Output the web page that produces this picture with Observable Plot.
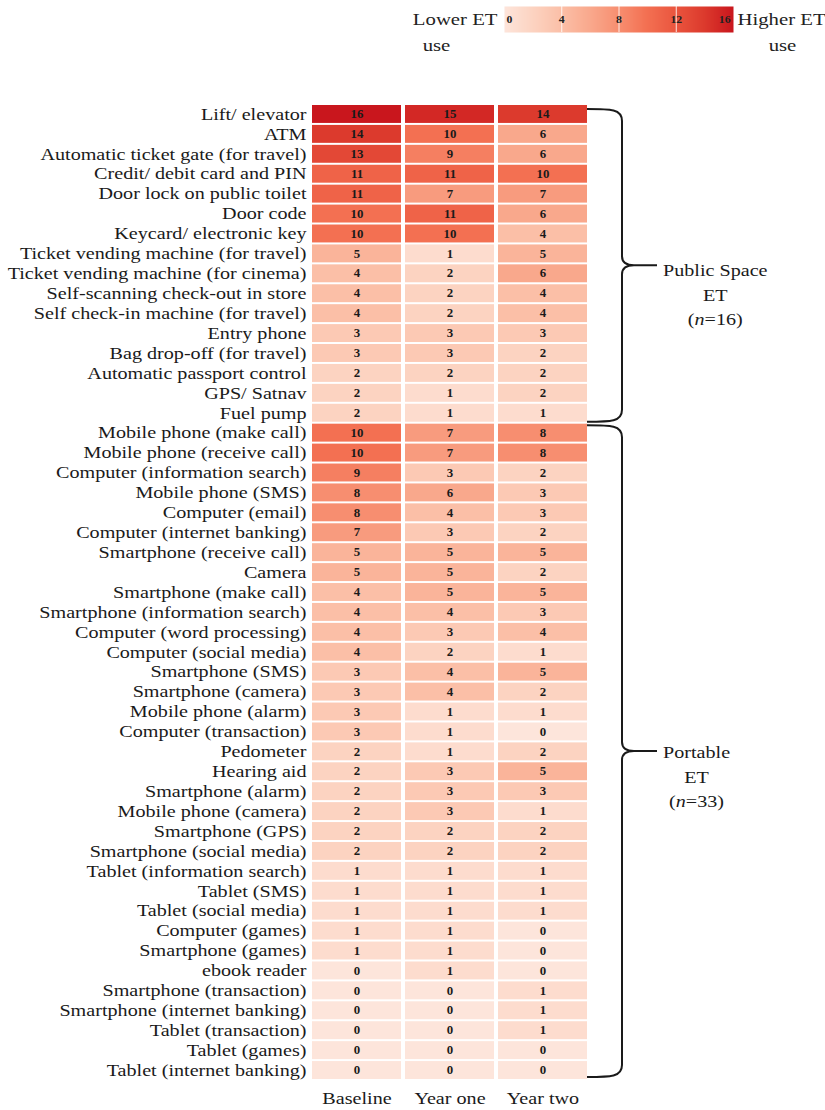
<!DOCTYPE html>
<html><head><meta charset="utf-8">
<script src="https://cdn.jsdelivr.net/npm/d3@7"></script>
<script src="https://cdn.jsdelivr.net/npm/@observablehq/plot@0.6"></script>
<style>
body{margin:0;background:#fff;}
#chart{width:825px;}
svg{display:block}
</style></head><body><div id="chart"></div>
<script>
const items = [
  "Lift/ elevator","ATM","Automatic ticket gate (for travel)","Credit/ debit card and PIN",
  "Door lock on public toilet","Door code","Keycard/ electronic key","Ticket vending machine (for travel)",
  "Ticket vending machine (for cinema)","Self-scanning check-out in store","Self check-in machine (for travel)",
  "Entry phone","Bag drop-off (for travel)","Automatic passport control","GPS/ Satnav","Fuel pump",
  "Mobile phone (make call)","Mobile phone (receive call)","Computer (information search)","Mobile phone (SMS)",
  "Computer (email)","Computer (internet banking)","Smartphone (receive call)","Camera","Smartphone (make call)",
  "Smartphone (information search)","Computer (word processing)","Computer (social media)","Smartphone (SMS)",
  "Smartphone (camera)","Mobile phone (alarm)","Computer (transaction)","Pedometer","Hearing aid",
  "Smartphone (alarm)","Mobile phone (camera)","Smartphone (GPS)","Smartphone (social media)",
  "Tablet (information search)","Tablet (SMS)","Tablet (social media)","Computer (games)","Smartphone (games)",
  "ebook reader","Smartphone (transaction)","Smartphone (internet banking)","Tablet (transaction)",
  "Tablet (games)","Tablet (internet banking)"
];
const baseline = [16,14,13,11,11,10,10,5,4,4,4,3,3,2,2,2,
  10,10,9,8,8,7,5,5,4,4,4,4,3,3,3,3,2,2,2,2,2,2,1,1,1,1,1,0,0,0,0,0,0];
const yearOne  = [15,10,9,11,7,11,10,1,2,2,2,3,3,2,1,1,
  7,7,3,6,4,3,5,5,5,4,3,2,4,4,1,1,1,3,3,3,2,2,1,1,1,1,1,1,0,0,0,0,0];
const yearTwo  = [14,6,6,10,7,6,4,5,6,4,4,3,2,2,2,1,
  8,8,2,3,3,2,5,2,5,3,4,1,5,2,1,0,2,5,3,1,2,2,1,1,1,0,0,0,1,1,1,0,0];
const periods = ["Baseline","Year one","Year two"];
const groupNames = [["Public Space","ET"],["Portable","ET"]];
const groupSizes = [16,33];
const legendTicks = [0,4,8,12,16];
const colorStops = [0,2,4,6,8,10,12,14,16];
const colorRange = ["#fde5db","#fcd3c1","#fbbfa7","#f9a88c","#f78e70","#f37052","#ea553e","#dc3a2d","#c9161d"];

const SERIF = "'Liberation Serif','Times New Roman',serif";
const STRETCH = 1.22, STRETCH_BOLD = 1.12;
const colorOpt = {type:"linear", domain: colorStops, range: colorRange, interpolate:"rgb"};

const rampMark = typeof Plot.raster === "function"
  ? Plot.raster({x1:0, x2:16, y1:0, y2:1, width:230, height:1, fill:(x,y)=>x})
  : Plot.rect(d3.range(0,16,0.1), {x1:d=>d, x2:d=>d+0.1, y1:0, y2:1, fill:d=>d});

const legend = Plot.plot({
  width:825, height:60, margin:0,
  x:{domain:[0,16], range:[504,733], axis:null},
  y:{domain:[0,1], range:[6,32], axis:null},
  color: colorOpt,
  style:{fontFamily:SERIF, background:"white", overflow:"visible", color:"#111"},
  marks:[
    rampMark,
    Plot.ruleX(legendTicks.slice(1,-1), {y1:0, y2:1, stroke:"white", strokeWidth:1, strokeOpacity:0.85}),
    Plot.text(legendTicks.slice(0,1), {x:d=>d, y:0.5, text:d=>String(d), textAnchor:"start", dx:2, fontWeight:"bold", fontSize:10.5, fill:"#222"}),
    Plot.text(legendTicks.slice(1,-1), {x:d=>d, y:0.5, text:d=>String(d), fontWeight:"bold", fontSize:10.5, fill:"#222"}),
    Plot.text(legendTicks.slice(-1), {x:d=>d, y:0.5, text:d=>String(d), textAnchor:"end", dx:-3, fontWeight:"bold", fontSize:10.5, fill:"#222"}),
    Plot.text(["Lower ET"], {x:0, y:0.5, text:d=>d, textAnchor:"end", dx:-7, fontSize:17, fill:"#222"}),
    Plot.text(["use"], {x:0, y:1.5, text:d=>d, dx:-68, fontSize:17, fill:"#222"}),
    Plot.text(["Higher ET"], {x:16, y:0.5, text:d=>d, textAnchor:"start", dx:4, fontSize:17, fill:"#222"}),
    Plot.text(["use"], {x:16, y:1.5, text:d=>d, dx:49, fontSize:17, fill:"#222"})
  ]
});

const series = [baseline, yearOne, yearTwo];
const rows = items.flatMap((item,i)=>series.map((s,j)=>({item, period:periods[j], value:s[i]})));

const chart = Plot.plot({
  width:825, height:1050, marginTop:45, marginBottom:31, marginLeft:311, marginRight:238,
  x:{domain:periods, paddingInner:0.045, paddingOuter:0, label:null, tickSize:0, tickPadding:13, axis:"bottom"},
  y:{domain:items, paddingInner:0.1, paddingOuter:0, label:null, tickSize:0, tickPadding:5},
  color: colorOpt,
  style:{fontFamily:SERIF, fontSize:"16.5px", color:"#1a1a1a", background:"white", overflow:"visible"},
  marks:[
    Plot.cell(rows, {x:"period", y:"item", fill:"value"}),
    Plot.text(rows, {x:"period", y:"item", text:d=>String(d.value), fontWeight:"bold", fontSize:11.5, fill:"#1a1a1a"})
  ]
});

const host = document.getElementById("chart");
host.appendChild(legend);
host.appendChild(chart);

// horizontal stretch of serif text to match the reference's wide glyphs
function stretch(root){
  root.querySelectorAll("text").forEach(t=>{
    const bold = t.closest('[font-weight="bold"]') || t.getAttribute("font-weight")==="bold";
    const f = bold ? STRETCH_BOLD : STRETCH;
    const len = t.getComputedTextLength();
    if (len > 0) { t.setAttribute("textLength", (len*f).toFixed(2)); t.setAttribute("lengthAdjust","spacingAndGlyphs"); }
  });
}
stretch(legend);
stretch(chart);

// group braces, positioned with the plot's own scales
const ys = chart.scale("y"), xs = chart.scale("x");
const x0 = xs.apply(periods[periods.length-1]) + xs.bandwidth;
const svg = d3.select(chart);
let start = 0;
groupSizes.forEach((size, gi)=>{
  const first = items[start], last = items[start+size-1];
  const top = ys.apply(first) + (gi===0 ? 4 : 1.5);
  const bot = ys.apply(last) + ys.bandwidth - (gi===0 ? 0 : 2);
  const mid = (top+bot)/2;
  const xv = x0 + 35, xt = x0 + 70;
  const p = d3.path();
  p.moveTo(x0, top);
  p.bezierCurveTo(x0+24, top, xv, top, xv, top+12);
  p.lineTo(xv, mid-9);
  p.bezierCurveTo(xv, mid-2, xv+5, mid, xv+12, mid);
  p.lineTo(xt, mid);
  p.moveTo(xv+12, mid);
  p.bezierCurveTo(xv+5, mid, xv, mid+2, xv, mid+9);
  p.lineTo(xv, bot-12);
  p.bezierCurveTo(xv, bot, x0+24, bot, x0, bot);
  svg.append("path").attr("d", p.toString()).attr("fill","none").attr("stroke","#1a1a1a").attr("stroke-width",2);

  const g = svg.append("g").attr("font-family", SERIF).attr("font-size", 16.5).attr("fill","#1a1a1a").attr("text-anchor","middle");
  const probe = g.append("text").text(groupNames[gi][0]);
  const w = probe.node().getComputedTextLength()*STRETCH;
  probe.remove();
  const cx = xt + 6 + w/2;
  const lines = [groupNames[gi][0], groupNames[gi][1], null];
  const offs = [gi===0?11:7, gi===0?36:32, gi===0?60:56];
  lines.forEach((ln, li)=>{
    const t = g.append("text").attr("transform", `translate(${cx},${mid+offs[li]}) scale(${STRETCH},1)`);
    if (ln !== null) t.text(ln);
    else { t.append("tspan").text("("); t.append("tspan").attr("font-style","italic").text("n"); t.append("tspan").text("=" + groupSizes[gi] + ")"); }
  });
  start += size;
});
</script>
</body></html>
